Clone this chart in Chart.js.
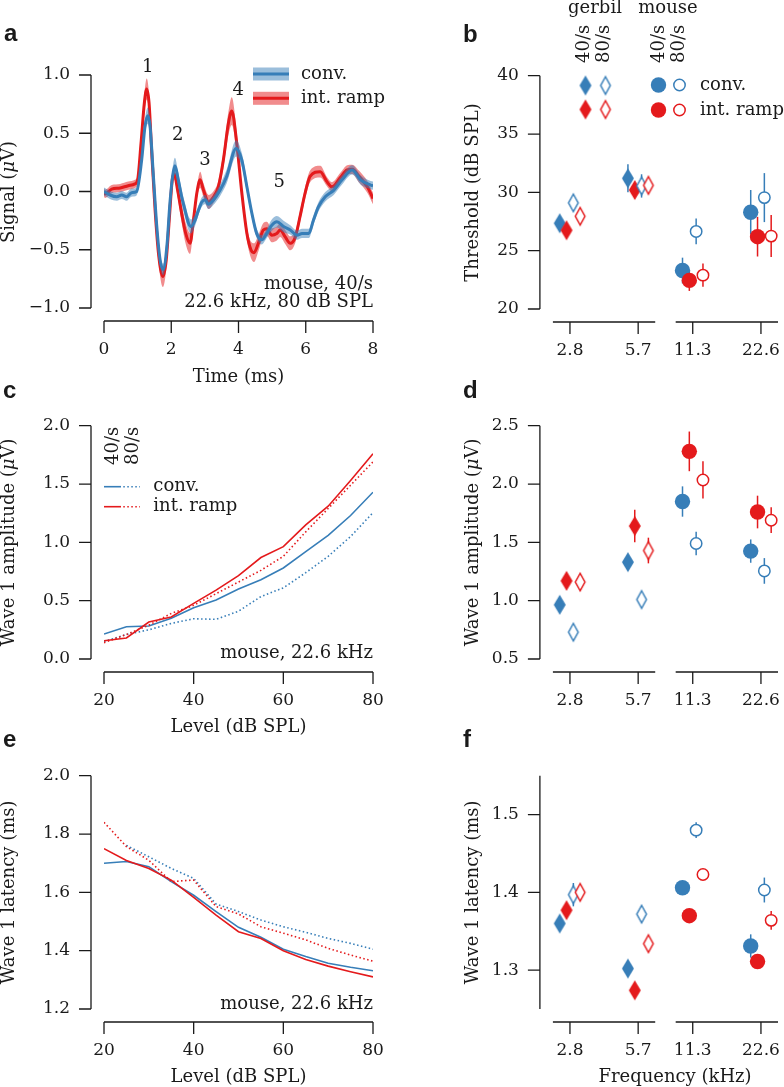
<!DOCTYPE html>
<html>
<head>
<meta charset="utf-8">
<script src="https://cdn.jsdelivr.net/npm/chart.js@4.4.0/dist/chart.umd.min.js"></script>
<style>
  body { margin: 0; background: #fff; }
  #wrap { position: relative; width: 784px; height: 1087px; }
  #wrap canvas { position: absolute; left: 0; top: 0; }
</style>
</head>
<body>
<div id="wrap">
  <canvas id="pa" width="784" height="1087"></canvas>
  <canvas id="pb" width="784" height="1087"></canvas>
  <canvas id="pc" width="784" height="1087"></canvas>
  <canvas id="pd" width="784" height="1087"></canvas>
  <canvas id="pe" width="784" height="1087"></canvas>
  <canvas id="pf" width="784" height="1087"></canvas>
</div>
<script>
// panel a: mean waveform, mouse 40/s, 22.6 kHz, 80 dB SPL
const convT = [0, 0.18, 0.38, 0.53, 0.67, 0.82, 0.97, 1.12, 1.22, 1.30, 1.37, 1.47, 1.57, 1.67, 1.76, 1.87, 1.96, 2.04, 2.11, 2.21, 2.31, 2.41, 2.51, 2.59, 2.71, 2.81, 2.91, 3.01, 3.10, 3.25, 3.45, 3.65, 3.93, 4.10, 4.25, 4.40, 4.54, 4.69, 4.84, 4.99, 5.14, 5.34, 5.54, 5.74, 5.89, 6.09, 6.23, 6.38, 6.58, 6.83, 7.08, 7.38, 7.63, 7.93, 8.0];
const convV = [0, -0.03, -0.045, -0.03, -0.045, -0.01, 0.0, 0.27, 0.56, 0.65, 0.56, 0.13, -0.30, -0.59, -0.67, -0.47, -0.10, 0.13, 0.22, 0.10, -0.045, -0.16, -0.27, -0.30, -0.245, -0.16, -0.09, -0.07, -0.11, -0.075, 0.01, 0.13, 0.37, 0.27, 0.04, -0.19, -0.36, -0.415, -0.36, -0.29, -0.26, -0.30, -0.33, -0.375, -0.36, -0.36, -0.245, -0.13, -0.045, 0.01, 0.1, 0.185, 0.1, 0.055, 0.05];
const convSem = [0.035, 0.035, 0.035, 0.035, 0.035, 0.035, 0.035, 0.05, 0.06, 0.07, 0.06, 0.05, 0.05, 0.05, 0.05, 0.05, 0.06, 0.07, 0.07, 0.06, 0.06, 0.06, 0.06, 0.06, 0.05, 0.04, 0.04, 0.04, 0.04, 0.04, 0.05, 0.06, 0.07, 0.06, 0.05, 0.04, 0.04, 0.04, 0.04, 0.05, 0.05, 0.05, 0.04, 0.04, 0.04, 0.04, 0.04, 0.04, 0.04, 0.04, 0.04, 0.04, 0.04, 0.035, 0.035];
const rampT = [0, 0.03, 0.23, 0.48, 0.72, 0.92, 1.0, 1.10, 1.20, 1.27, 1.34, 1.42, 1.52, 1.62, 1.75, 1.85, 1.94, 2.03, 2.09, 2.19, 2.31, 2.43, 2.56, 2.66, 2.76, 2.86, 2.96, 3.11, 3.25, 3.40, 3.55, 3.70, 3.80, 3.95, 4.10, 4.25, 4.37, 4.46, 4.59, 4.74, 4.84, 4.99, 5.14, 5.24, 5.39, 5.54, 5.69, 5.83, 5.98, 6.13, 6.43, 6.63, 6.78, 7.03, 7.23, 7.38, 7.58, 7.83, 8.0];
const rampV = [-0.01, -0.02, 0.02, 0.03, 0.05, 0.065, 0.10, 0.41, 0.76, 0.88, 0.76, 0.33, -0.16, -0.53, -0.73, -0.59, -0.245, 0.10, 0.15, 0.01, -0.19, -0.36, -0.445, -0.245, -0.015, 0.10, 0.01, -0.09, -0.05, 0.04, 0.27, 0.585, 0.69, 0.41, -0.015, -0.36, -0.50, -0.525, -0.445, -0.33, -0.32, -0.375, -0.36, -0.33, -0.39, -0.445, -0.39, -0.215, -0.015, 0.13, 0.17, 0.085, 0.04, 0.12, 0.185, 0.19, 0.13, 0.04, -0.06];
const rampSem = [0.035, 0.035, 0.035, 0.035, 0.035, 0.035, 0.04, 0.06, 0.08, 0.09, 0.08, 0.06, 0.06, 0.07, 0.09, 0.08, 0.06, 0.05, 0.05, 0.06, 0.08, 0.09, 0.09, 0.07, 0.05, 0.07, 0.06, 0.06, 0.05, 0.05, 0.07, 0.10, 0.12, 0.09, 0.06, 0.06, 0.07, 0.08, 0.07, 0.06, 0.06, 0.06, 0.06, 0.06, 0.06, 0.06, 0.05, 0.05, 0.05, 0.05, 0.05, 0.04, 0.04, 0.04, 0.04, 0.04, 0.05, 0.05, 0.05];
const waveLabels = ['1', '2', '3', '4', '5'];
const waveLabelT = [1.30, 2.19, 3.00, 3.99, 5.21];
const waveLabelV = [1.07, 0.48, 0.27, 0.87, 0.075];
const timeTicks = [0, 2, 4, 6, 8];
const signalTicks = [-1, -0.5, 0, 0.5, 1];

// panels c, e: mouse 22.6 kHz level series
const levels = [20, 25, 30, 35, 40, 45, 50, 55, 60, 65, 70, 75, 80];
const levelTicks = [20, 40, 60, 80];
const ampConv40 = [0.214, 0.277, 0.283, 0.35, 0.44, 0.505, 0.60, 0.68, 0.78, 0.92, 1.06, 1.23, 1.43];
const ampConv80 = [0.15, 0.21, 0.25, 0.305, 0.345, 0.34, 0.41, 0.535, 0.61, 0.74, 0.88, 1.05, 1.255];
const ampRamp40 = [0.157, 0.18, 0.317, 0.36, 0.477, 0.59, 0.715, 0.87, 0.963, 1.15, 1.31, 1.53, 1.76];
const ampRamp80 = [0.14, 0.21, 0.29, 0.39, 0.46, 0.56, 0.66, 0.76, 0.88, 1.09, 1.29, 1.49, 1.69];
const latConv40 = [1.70, 1.706, 1.688, 1.637, 1.59, 1.534, 1.48, 1.446, 1.405, 1.38, 1.357, 1.343, 1.331];
const latConv80 = [null, 1.761, 1.722, 1.682, 1.648, 1.56, 1.534, 1.505, 1.482, 1.463, 1.442, 1.425, 1.405];
const latRamp40 = [1.75, 1.709, 1.682, 1.642, 1.583, 1.522, 1.465, 1.442, 1.40, 1.37, 1.347, 1.328, 1.31];
const latRamp80 = [1.84, 1.757, 1.71, 1.637, 1.642, 1.551, 1.526, 1.482, 1.46, 1.437, 1.408, 1.385, 1.364];
const ampTicks = [0, 0.5, 1, 1.5, 2];
const latTicks = [1.2, 1.4, 1.6, 1.8, 2.0];

// panels b, d, f: per frequency (gerbil 2.8/5.7, mouse 11.3/22.6)
const freqLabels = ['2.8', '5.7', '11.3', '22.6'];
const freqSpecies = ['gerbil', 'gerbil', 'mouse', 'mouse'];
const thrConv40 = [27.35, 31.2, 23.3, 28.3];
const thrRamp40 = [26.75, 30.2, 22.45, 26.2];
const thrConv80 = [29.1, 30.55, 26.65, 29.55];
const thrRamp80 = [27.95, 30.6, 22.9, 26.25];
const thrConv40Err = [0.4, 1.2, 1.1, 1.9];
const thrRamp40Err = [0.3, 0.4, 0.9, 1.7];
const thrConv80Err = [0.4, 1.0, 1.1, 2.1];
const thrRamp80Err = [0.3, 0.4, 1.0, 1.8];
const w1Conv40 = [0.965, 1.33, 1.85, 1.425];
const w1Ramp40 = [1.17, 1.64, 2.28, 1.76];
const w1Conv80 = [0.73, 1.01, 1.49, 1.255];
const w1Ramp80 = [1.16, 1.43, 2.035, 1.69];
const w1Conv40Err = [0.05, 0.06, 0.13, 0.1];
const w1Ramp40Err = [0.05, 0.14, 0.17, 0.14];
const w1Conv80Err = [0.04, 0.05, 0.1, 0.11];
const w1Ramp80Err = [0.05, 0.11, 0.16, 0.11];
const latFConv40 = [1.36, 1.302, 1.406, 1.331];
const latFRamp40 = [1.377, 1.274, 1.37, 1.311];
const latFConv80 = [1.397, 1.372, 1.48, 1.403];
const latFRamp80 = [1.40, 1.334, 1.423, 1.364];
const latFConv40Err = [0.005, 0.005, 0.005, 0.015];
const latFRamp40Err = [0.005, 0.005, 0.005, 0.005];
const latFConv80Err = [0.015, 0.005, 0.01, 0.016];
const latFRamp80Err = [0.005, 0.005, 0.005, 0.012];
const thrTicks = [20, 25, 30, 35, 40];
const w1Ticks = [0.5, 1, 1.5, 2, 2.5];
const latFTicks = [1.3, 1.4, 1.5];

// layout
const freqPos = [0, 1, 1.8, 2.8];
const BLUE = '#377eb8', RED = '#e41a1c';
const BLUE_BAND = 'rgba(55,126,184,0.5)', RED_BAND = 'rgba(228,26,28,0.5)';
const INK = '#1a1a1a';
const SERIF = '"DejaVu Serif", serif';
const SANS = '"Liberation Sans", Arial, sans-serif';
const TICK = 17, LAB = 18;
const DOT = [1.5, 2.5];
const YBOX = 90, XBOX = 70;

Chart.defaults.font.family = SERIF;
Chart.defaults.font.size = TICK;
Chart.defaults.color = INK;
Chart.defaults.animation = false;
Chart.defaults.responsive = false;
Chart.defaults.plugins.legend.display = false;
Chart.defaults.plugins.tooltip.enabled = false;

const diamonds = {};
function diamond(color, filled) {
    const key = color + filled;
    if (diamonds[key]) return diamonds[key];
    const w = filled ? 12 : 9.6, h = filled ? 20 : 17.5;
    const c = document.createElement('canvas');
    c.width = 16; c.height = 24;
    const g = c.getContext('2d');
    g.beginPath();
    g.moveTo(8, 12 - h / 2); g.lineTo(8 + w / 2, 12); g.lineTo(8, 12 + h / 2); g.lineTo(8 - w / 2, 12);
    g.closePath();
    if (filled) { g.fillStyle = color; g.fill(); }
    else { g.fillStyle = '#fff'; g.fill(); g.strokeStyle = color; g.lineWidth = 1.5; g.stroke(); }
    diamonds[key] = c;
    return c;
}

// spines, error bars and annotations, looked up by canvas id
const spines = {};
const decor = {};

const spinePlugin = {
    id: 'spines',
    afterDraw(chart) {
        const o = spines[chart.canvas.id];
        if (!o) return;
        const { ctx, chartArea: a } = chart;
        const x = chart.scales.x, y = chart.scales.y;
        const sx = a.left - 13, sy = a.bottom + 13, len = 12;
        ctx.save();
        ctx.strokeStyle = INK;
        ctx.lineWidth = 1.3;
        ctx.beginPath();
        ctx.moveTo(sx, y.getPixelForValue(o.y[0]));
        ctx.lineTo(sx, y.getPixelForValue(o.y[1]));
        y.ticks.forEach(t => {
            const p = y.getPixelForValue(t.value);
            ctx.moveTo(sx - len, p); ctx.lineTo(sx, p);
        });
        o.x.forEach(s => {
            ctx.moveTo(x.getPixelForValue(s[0]), sy);
            ctx.lineTo(x.getPixelForValue(s[1]), sy);
        });
        x.ticks.forEach(t => {
            const p = x.getPixelForValue(t.value);
            ctx.moveTo(p, sy); ctx.lineTo(p, sy + len);
        });
        ctx.stroke();
        ctx.restore();
    }
};

const errPlugin = {
    id: 'errbars',
    beforeDatasetsDraw(chart) {
        const { ctx } = chart;
        const y = chart.scales.y;
        chart.data.datasets.forEach((ds, i) => {
            if (!ds.errors) return;
            const meta = chart.getDatasetMeta(i);
            ctx.save();
            ctx.strokeStyle = ds.borderColor;
            ctx.lineWidth = 1.5;
            ds.data.forEach((pt, j) => {
                const px = meta.data[j].x;
                ctx.beginPath();
                ctx.moveTo(px, y.getPixelForValue(pt.y - ds.errors[j]));
                ctx.lineTo(px, y.getPixelForValue(pt.y + ds.errors[j]));
                ctx.stroke();
            });
            ctx.restore();
        });
    }
};

function drawText(ctx, it) {
    ctx.save();
    ctx.translate(it.x, it.y);
    if (it.rot) ctx.rotate(-Math.PI / 2);
    ctx.fillStyle = INK;
    ctx.textBaseline = it.base || 'middle';
    ctx.textAlign = 'left';
    const parts = Array.isArray(it.text) ? it.text : [[it.text, '']];
    const fonts = parts.map(p => `${p[1]} ${it.weight || ''} ${it.size || LAB}px ${it.family || SERIF}`);
    const widths = parts.map((p, i) => { ctx.font = fonts[i]; return ctx.measureText(p[0]).width; });
    const total = widths.reduce((s, w) => s + w, 0);
    let x0 = it.align === 'right' ? -total : it.align === 'center' ? -total / 2 : 0;
    parts.forEach((p, i) => { ctx.font = fonts[i]; ctx.fillText(p[0], x0, 0); x0 += widths[i]; });
    ctx.restore();
}

const decorPlugin = {
    id: 'decor',
    afterDraw(chart) {
        const items = decor[chart.canvas.id] || [];
        const { ctx } = chart;
        items.forEach(it => {
            if (it.t === 'text') {
                if (it.data) {
                    drawText(ctx, Object.assign({}, it, {
                        x: chart.scales.x.getPixelForValue(it.x),
                        y: chart.scales.y.getPixelForValue(it.y)
                    }));
                } else drawText(ctx, it);
            } else if (it.t === 'line') {
                ctx.save();
                ctx.strokeStyle = it.color; ctx.lineWidth = it.width || 1.6;
                ctx.setLineDash(it.dash || []);
                ctx.beginPath(); ctx.moveTo(it.x1, it.y); ctx.lineTo(it.x2, it.y); ctx.stroke();
                ctx.restore();
            } else if (it.t === 'rect') {
                ctx.fillStyle = it.color;
                ctx.fillRect(it.x, it.y, it.w, it.h);
            } else if (it.t === 'img') {
                ctx.drawImage(it.img, it.x - it.img.width / 2, it.y - it.img.height / 2);
            } else if (it.t === 'circle') {
                ctx.save();
                ctx.beginPath(); ctx.arc(it.x, it.y, it.r, 0, Math.PI * 2);
                ctx.fillStyle = it.fill; ctx.fill();
                if (it.stroke) { ctx.strokeStyle = it.stroke; ctx.lineWidth = 1.5; ctx.stroke(); }
                ctx.restore();
            }
        });
    }
};

function axis(min, max, ticks, fmt, horiz) {
    return {
        type: 'linear', min, max,
        grid: { display: false, drawTicks: false },
        border: { display: false },
        ticks: { padding: horiz ? 31.4 : 34, maxRotation: 0, autoSkip: false, color: INK, font: { size: TICK }, callback: fmt },
        afterBuildTicks: s => { s.ticks = ticks.map(v => ({ value: v })); },
        afterFit: s => {
            if (horiz) s.height = XBOX; else s.width = YBOX;
            s.paddingLeft = s.paddingRight = s.paddingTop = s.paddingBottom = 0;
        }
    };
}

const fmt1 = v => (v < 0 ? '\u2212' : '') + Math.abs(v).toFixed(1);
const fmt0 = v => v.toFixed(0);
const fmtFreq = (v, i) => freqLabels[i];

function makeChart(id, area, type, datasets, xs, ys) {
    return new Chart(document.getElementById(id), {
        type,
        data: { datasets },
        options: {
            layout: {
                autoPadding: false,
                padding: { left: area[0] - YBOX, top: area[1], right: 784 - area[2], bottom: 1087 - area[3] - XBOX }
            },
            scales: { x: xs, y: ys }
        },
        plugins: [errPlugin, spinePlugin, decorPlugin]
    });
}

const pts = (xs, ys) => xs.map((x, i) => ({ x, y: ys[i] }));
const shift = (ys, e, s) => ys.map((v, i) => v + s * e[i]);
const NONE = 'rgba(0,0,0,0)';
const smooth = { pointRadius: 0, cubicInterpolationMode: 'monotone', fill: false };

function waveSets(t, v, sem, color, band) {
    return [
        Object.assign({ data: pts(t, v), borderColor: color, borderWidth: 3 }, smooth),
        Object.assign({ data: pts(t, shift(v, sem, 1)), borderColor: NONE, borderWidth: 1 }, smooth),
        Object.assign({}, smooth, { data: pts(t, shift(v, sem, -1)), borderColor: NONE, borderWidth: 1, fill: '-1', backgroundColor: band })
    ];
}

function levelSet(vals, color, dotted) {
    return {
        data: pts(levels, vals), borderColor: color, borderWidth: 1.6,
        borderDash: dotted ? DOT : [], pointRadius: 0, tension: 0, fill: false
    };
}

const groups = [
    { color: BLUE, filled: true, dx: -0.15 },
    { color: RED, filled: true, dx: -0.05 },
    { color: BLUE, filled: false, dx: 0.05 },
    { color: RED, filled: false, dx: 0.15 }
];

function markerSets(values, errs) {
    return groups.map((g, k) => ({
        data: freqPos.map((p, i) => ({ x: p + g.dx, y: values[k][i] })),
        errors: errs[k],
        pointStyle: freqSpecies.map(s => s === 'gerbil' ? diamond(g.color, g.filled) : 'circle'),
        pointRadius: freqSpecies.map(s => s === 'gerbil' ? 8 : (g.filled ? 7.7 : 5.7)),
        backgroundColor: g.filled ? g.color : '#fff',
        borderColor: g.color,
        borderWidth: g.filled ? 0 : 1.5,
        showLine: false,
        clip: false,
        order: 3 - k
    }));
}

const letter = (ch, x, y) => ({ t: 'text', text: ch, x, y, base: 'alphabetic', size: 24, weight: 'bold', family: SANS });
const ampTitle = [['Wave 1 amplitude (', ''], ['\u03bc', 'italic'], ['V)', '']];
const freqSpans = [[-0.25, 1.25], [1.55, 3.05]];

// a
spines.pa = { y: [-1, 1], x: [[0, 8]] };
decor.pa = [
    letter('a', 4, 41),
    { t: 'text', text: [['Signal (', ''], ['\u03bc', 'italic'], ['V)', '']], x: 9, y: 192, align: 'center', rot: true },
    { t: 'text', text: 'Time (ms)', x: 238.5, y: 377, align: 'center' },
    { t: 'rect', x: 253, y: 67.5, w: 36, h: 13, color: BLUE_BAND },
    { t: 'line', x1: 253, x2: 289, y: 74, color: BLUE, width: 3 },
    { t: 'text', text: 'conv.', x: 301, y: 74 },
    { t: 'rect', x: 253, y: 91.8, w: 36, h: 13, color: RED_BAND },
    { t: 'line', x1: 253, x2: 289, y: 98.3, color: RED, width: 3 },
    { t: 'text', text: 'int. ramp', x: 301, y: 98.3 },
    { t: 'text', text: 'mouse, 40/s', x: 373, y: 288.5, align: 'right', base: 'alphabetic' },
    { t: 'text', text: '22.6 kHz, 80 dB SPL', x: 373, y: 307, align: 'right', base: 'alphabetic' }
].concat(waveLabels.map((s, i) => ({ t: 'text', text: s, x: waveLabelT[i], y: waveLabelV[i], data: true, align: 'center' })));
makeChart('pa', [104, 75, 373, 308], 'line',
    waveSets(convT, convV, convSem, BLUE, BLUE_BAND).concat(waveSets(rampT, rampV, rampSem, RED, RED_BAND)),
    axis(0, 8, timeTicks, fmt0, true), axis(-1, 1, signalTicks, fmt1, false));

// b
spines.pb = { y: [20, 40], x: freqSpans };
decor.pb = [
    letter('b', 463, 41.7),
    { t: 'text', text: 'Threshold (dB SPL)', x: 473.5, y: 192.5, align: 'center', rot: true },
    { t: 'text', text: 'gerbil', x: 595, y: 13.3, align: 'center', base: 'alphabetic' },
    { t: 'text', text: 'mouse', x: 668, y: 13.3, align: 'center', base: 'alphabetic' },
    { t: 'text', text: '40/s', x: 584, y: 63, rot: true },
    { t: 'text', text: '80/s', x: 604, y: 63, rot: true },
    { t: 'text', text: '40/s', x: 659, y: 63, rot: true },
    { t: 'text', text: '80/s', x: 679, y: 63, rot: true },
    { t: 'img', img: diamond(BLUE, true), x: 585.5, y: 85.5 },
    { t: 'img', img: diamond(BLUE, false), x: 605.5, y: 85.5 },
    { t: 'circle', x: 658.5, y: 85, r: 7.7, fill: BLUE },
    { t: 'circle', x: 679.5, y: 85, r: 5.7, fill: '#fff', stroke: BLUE },
    { t: 'text', text: 'conv.', x: 700, y: 85 },
    { t: 'img', img: diamond(RED, true), x: 585.5, y: 109.5 },
    { t: 'img', img: diamond(RED, false), x: 605.5, y: 109.5 },
    { t: 'circle', x: 658.5, y: 110, r: 7.7, fill: RED },
    { t: 'circle', x: 679.5, y: 110, r: 5.7, fill: '#fff', stroke: RED },
    { t: 'text', text: 'int. ramp', x: 700, y: 110 }
];
makeChart('pb', [552.9, 75.7, 778, 309], 'scatter',
    markerSets([thrConv40, thrRamp40, thrConv80, thrRamp80], [thrConv40Err, thrRamp40Err, thrConv80Err, thrRamp80Err]),
    axis(-0.25, 3.05, freqPos, fmtFreq, true), axis(20, 40, thrTicks, fmt0, false));

// c
spines.pc = { y: [0, 2], x: [[20, 80]] };
decor.pc = [
    letter('c', 3, 398),
    { t: 'text', text: ampTitle, x: 9, y: 542.3, align: 'center', rot: true },
    { t: 'text', text: 'Level (dB SPL)', x: 238.5, y: 727, align: 'center' },
    { t: 'text', text: '40/s', x: 113, y: 465, rot: true },
    { t: 'text', text: '80/s', x: 133, y: 465, rot: true },
    { t: 'line', x1: 104, x2: 121, y: 486.7, color: BLUE },
    { t: 'line', x1: 123.3, x2: 140, y: 486.7, color: BLUE, dash: DOT },
    { t: 'text', text: 'conv.', x: 153.3, y: 486.7 },
    { t: 'line', x1: 104, x2: 121, y: 506.7, color: RED },
    { t: 'line', x1: 123.3, x2: 140, y: 506.7, color: RED, dash: DOT },
    { t: 'text', text: 'int. ramp', x: 153.3, y: 506.7 },
    { t: 'text', text: 'mouse, 22.6 kHz', x: 373, y: 658, align: 'right', base: 'alphabetic' }
];
makeChart('pc', [104, 425.7, 373, 659], 'line',
    [levelSet(ampRamp40, RED, false), levelSet(ampRamp80, RED, true), levelSet(ampConv40, BLUE, false), levelSet(ampConv80, BLUE, true)],
    axis(20, 80, levelTicks, fmt0, true), axis(0, 2, ampTicks, fmt1, false));

// d
spines.pd = { y: [0.5, 2.5], x: freqSpans };
decor.pd = [
    letter('d', 463, 398),
    { t: 'text', text: ampTitle, x: 473.5, y: 542.3, align: 'center', rot: true }
];
makeChart('pd', [552.9, 425.7, 778, 659], 'scatter',
    markerSets([w1Conv40, w1Ramp40, w1Conv80, w1Ramp80], [w1Conv40Err, w1Ramp40Err, w1Conv80Err, w1Ramp80Err]),
    axis(-0.25, 3.05, freqPos, fmtFreq, true), axis(0.5, 2.5, w1Ticks, fmt1, false));

// e
spines.pe = { y: [1.2, 2.0], x: [[20, 80]] };
decor.pe = [
    letter('e', 3, 746.7),
    { t: 'text', text: 'Wave 1 latency (ms)', x: 9, y: 892.3, align: 'center', rot: true },
    { t: 'text', text: 'Level (dB SPL)', x: 238.5, y: 1077, align: 'center' },
    { t: 'text', text: 'mouse, 22.6 kHz', x: 373, y: 1009, align: 'right', base: 'alphabetic' }
];
makeChart('pe', [104, 775.7, 373, 1009], 'line',
    [levelSet(latRamp40, RED, false), levelSet(latRamp80, RED, true), levelSet(latConv40, BLUE, false), levelSet(latConv80, BLUE, true)],
    axis(20, 80, levelTicks, fmt0, true), axis(1.2, 2.0, latTicks, fmt1, false));

// f
spines.pf = { y: [1.25, 1.55], x: freqSpans };
decor.pf = [
    letter('f', 463, 746.7),
    { t: 'text', text: 'Wave 1 latency (ms)', x: 473.5, y: 892.3, align: 'center', rot: true },
    { t: 'text', text: 'Frequency (kHz)', x: 675, y: 1077, align: 'center' }
];
makeChart('pf', [552.9, 775.7, 778, 1009], 'scatter',
    markerSets([latFConv40, latFRamp40, latFConv80, latFRamp80], [latFConv40Err, latFRamp40Err, latFConv80Err, latFRamp80Err]),
    axis(-0.25, 3.05, freqPos, fmtFreq, true), axis(1.25, 1.55, latFTicks, fmt1, false));
</script>
</body>
</html>
